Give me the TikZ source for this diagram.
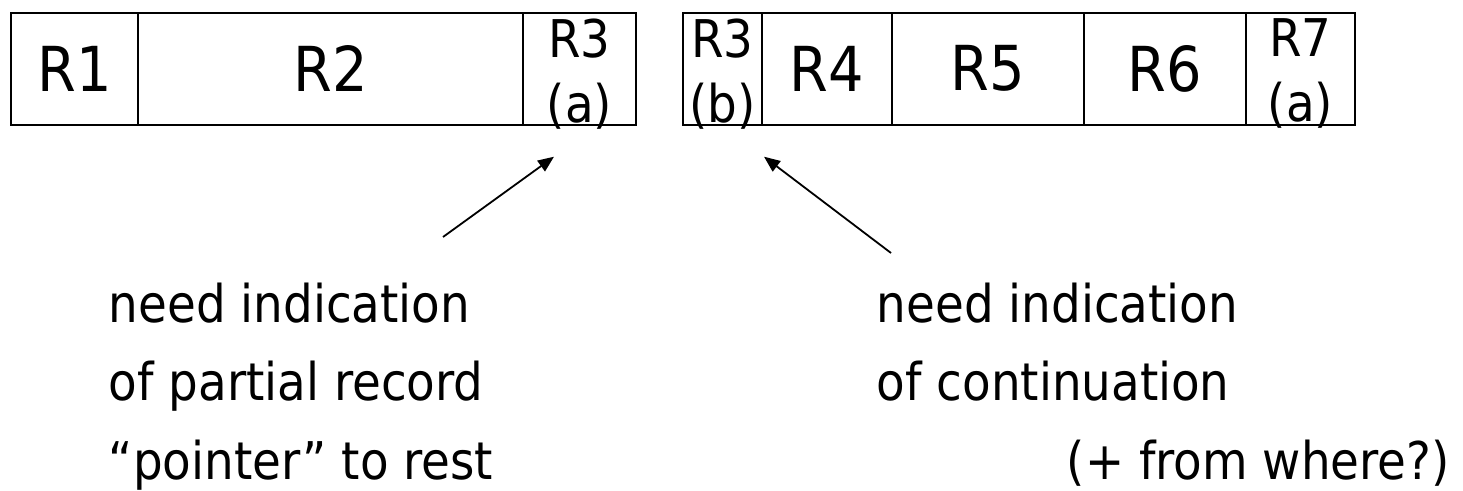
\documentclass[tikz,border=0pt]{standalone}
\usepackage{fontspec}
\setmainfont{DejaVu Sans Condensed}
\usetikzlibrary{positioning,arrows.meta}

\tikzset{
  cell/.style={draw, line width=2pt, minimum height=112pt, inner sep=0pt, outer sep=0pt,
    font=\fontsize{62}{70}\selectfont},
  halfrec/.style={align=center, inner sep=0pt, font=\fontsize{52}{65}\selectfont},
  note/.style={align=left, anchor=north west, inner sep=0pt, font=\fontsize{52}{78.5}\selectfont},
  ptr/.style={-{Triangle[length=16pt,width=13pt]}, line width=1.8pt}
}

\begin{document}
\begin{tikzpicture}[x=1pt,y=-1pt]
  \useasboundingbox (0,0) rectangle (1463,490);
  % Define nodes
  \node[cell, minimum width=127pt, anchor=north west] (r1) at (11,12.7) {R1};
  \node[cell, minimum width=385pt, right=0pt of r1] (r2) {R2};
  \node[cell, minimum width=113pt, right=0pt of r2] (r3a) {};
  \node[cell, minimum width=79pt, anchor=north west] (r3b) at (683,12.7) {};
  \node[cell, minimum width=130pt, right=0pt of r3b] (r4) {R4};
  \node[cell, minimum width=192pt, right=0pt of r4] (r5) {R5};
  \node[cell, minimum width=162pt, right=0pt of r5] (r6) {R6};
  \node[cell, minimum width=109pt, right=0pt of r6] (r7a) {};
  \node[halfrec] (t3a) at ([yshift=-5pt]r3a) {R3\\(a)};
  \node[halfrec] (t3b) at ([yshift=-5pt]r3b) {R3\\(b)};
  \node[halfrec] (t7a) at ([yshift=-5pt]r7a) {R7\\(a)};
  \node[note] (splitnote) at (108.7,282.5) {need indication\\of partial record\\“pointer” to rest};
  \node[note] (contnote) at (876.7,282.5) {need indication\\of continuation\\\hspace*{190pt}(+ from where?)};
  \coordinate (splittail) at (443,237);
  \coordinate (splittip) at ([xshift=-25.5pt,yshift=-32pt]r3a.south);
  \coordinate (conttail) at (891,253);
  \coordinate (conttip) at ([xshift=41.5pt,yshift=-32pt]r3b.south);
  % Connect the nodes
  \draw[ptr] (splittail) -- (splittip);
  \draw[ptr] (conttail) -- (conttip);
\end{tikzpicture}
\end{document}
